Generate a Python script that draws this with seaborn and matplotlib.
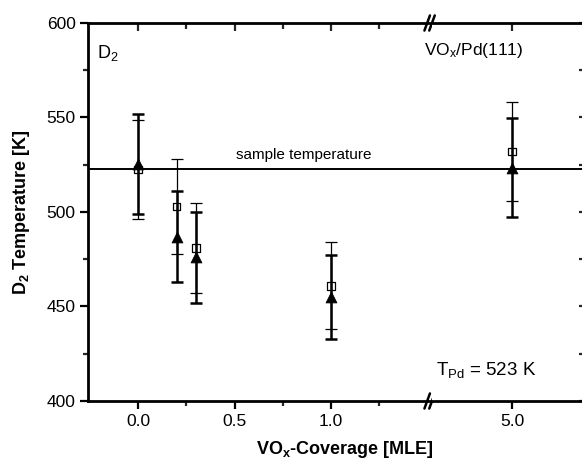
import numpy as np
import pandas as pd
import matplotlib
matplotlib.use("Agg")
import matplotlib.pyplot as plt
import seaborn as sns
from matplotlib.ticker import MultipleLocator, FixedLocator

# coverage values (MLE)
coverage = [0.0, 0.2, 0.3, 1.0, 5.0]
# filled triangles
tri_temp = [525.5, 487, 476, 455, 523.5]
tri_err = [26.5, 24, 24, 22, 26]
# open squares
sq_temp = [522.5, 503, 481, 461, 532]
sq_err = [26, 25, 24, 23, 26]
sample_temp = 523

df = pd.DataFrame({
    "coverage": coverage * 2,
    "temp": tri_temp + sq_temp,
    "err": tri_err + sq_err,
    "kind": ["tri"] * len(coverage) + ["sq"] * len(coverage),
})

sns.set_theme(style="ticks")
plt.rcParams["font.family"] = ["Liberation Sans", "DejaVu Sans"]
plt.rcParams["text.color"] = "black"
plt.rcParams["axes.labelcolor"] = "black"
plt.rcParams["mathtext.fontset"] = "custom"
plt.rcParams["mathtext.rm"] = "Liberation Sans"
plt.rcParams["mathtext.it"] = "Liberation Sans"
plt.rcParams["mathtext.bf"] = "Liberation Sans:bold"

fig = plt.figure(figsize=(5.82, 4.62), dpi=100)
W, H = 582, 462
x0, x_brk, x1 = 88, 432, 583
y_top, y_bot = 23, 401
ax1 = fig.add_axes([x0 / W, 1 - y_bot / H, (x_brk - x0) / W, (y_bot - y_top) / H])
ax2 = fig.add_axes([x_brk / W, 1 - y_bot / H, (x1 - x_brk) / W, (y_bot - y_top) / H], sharey=ax1)

for ax, sel in [(ax1, df["coverage"] < 2), (ax2, df["coverage"] > 2)]:
    d = df[sel]
    ax.axhline(sample_temp, color="black", lw=1.4, zorder=1)
    for kind, lw, cs in [("sq", 0.9, 4), ("tri", 1.8, 4.5)]:
        dk = d[d["kind"] == kind]
        ax.errorbar(dk["coverage"], dk["temp"], yerr=dk["err"], fmt="none",
                    ecolor="black", elinewidth=lw, capsize=cs, capthick=lw, zorder=2)
    sns.scatterplot(data=d[d["kind"] == "tri"], x="coverage", y="temp", ax=ax,
                    marker="^", s=60, color="black", edgecolor="black", zorder=4, legend=False)
    sns.scatterplot(data=d[d["kind"] == "sq"], x="coverage", y="temp", ax=ax,
                    marker="s", s=30, facecolor="none", edgecolor="black", linewidth=0.9,
                    zorder=5, legend=False)
    ax.set_xlabel("")
    ax.set_ylabel("")
    for sp in ax.spines.values():
        sp.set_linewidth(2.0)
        sp.set_color("black")

ax1.set_xlim(-0.259, 1.523)
ax2.set_xlim(4.585, 5.368)
ax1.set_ylim(400, 600)

ax1.spines["right"].set_visible(False)
ax2.spines["left"].set_visible(False)

ax1.yaxis.set_major_locator(MultipleLocator(50))
ax1.yaxis.set_minor_locator(MultipleLocator(25))
ax1.xaxis.set_major_locator(FixedLocator([0.0, 0.5, 1.0]))
ax1.xaxis.set_minor_locator(FixedLocator([0.25, 0.75, 1.25]))
ax1.set_xticklabels(["0.0", "0.5", "1.0"])
ax1.tick_params(axis="both", which="major", direction="out", length=6, width=1.6,
                labelsize=12.5, colors="black", pad=3)
ax1.tick_params(axis="both", which="minor", direction="out", length=3.5, width=1.6)

ax2.xaxis.set_major_locator(FixedLocator([5.0]))
ax2.xaxis.set_minor_locator(FixedLocator([]))
ax2.set_xticklabels(["5.0"])
ax2.tick_params(axis="x", which="major", direction="out", length=6, width=1.6,
                labelsize=12.5, colors="black", pad=3)
ax2.tick_params(axis="y", which="both", left=False, labelleft=False,
                right=True, direction="in", length=3, width=1.6)

# inward ticks on top edge
for ax in (ax1, ax2):
    top = ax.secondary_xaxis("top")
    top.set_xticks(ax.get_xticks())
    top.tick_params(direction="in", length=6, width=1.6, labeltop=False)
    top.spines["top"].set_visible(False)
    if ax is ax1:
        top.xaxis.set_minor_locator(FixedLocator([0.25, 0.75, 1.25]))
        top.tick_params(which="minor", direction="in", length=4, width=1.6)
ax1.tick_params(axis="x", which="both", top=False)

# axis break marks
for yb in (0, 1):
    for dx in (-0.014, 0.0):
        ax1.plot([1 + dx - 0.008, 1 + dx + 0.008], [yb - 0.02, yb + 0.02],
                 transform=ax1.transAxes, color="black", lw=1.8, clip_on=False, zorder=10)

ax1.text(0.51, sample_temp + 3.5, "sample temperature", fontsize=11, ha="left", va="bottom")
ax1.text(-0.21, 584, "D$_2$", fontsize=13, ha="left", va="center")
fig.text(424 / W, 1 - 50 / H, "VO$_x$/Pd(111)", fontsize=12.5, ha="left", va="center")
fig.text(436 / W, 1 - 370 / H, "T$_{Pd}$ = 523 K", fontsize=13.5, ha="left", va="center")

fig.text(345 / W, 1 - 449 / H, "VO$_\\mathbf{x}$-Coverage [MLE]", fontsize=13,
         fontweight="bold", ha="center", va="center")
fig.text(22 / W, 1 - 212 / H, "D$_\\mathbf{2}$ Temperature [K]", fontsize=13,
         fontweight="bold", ha="center", va="center", rotation=90)

fig.savefig("out.png", dpi=100)
